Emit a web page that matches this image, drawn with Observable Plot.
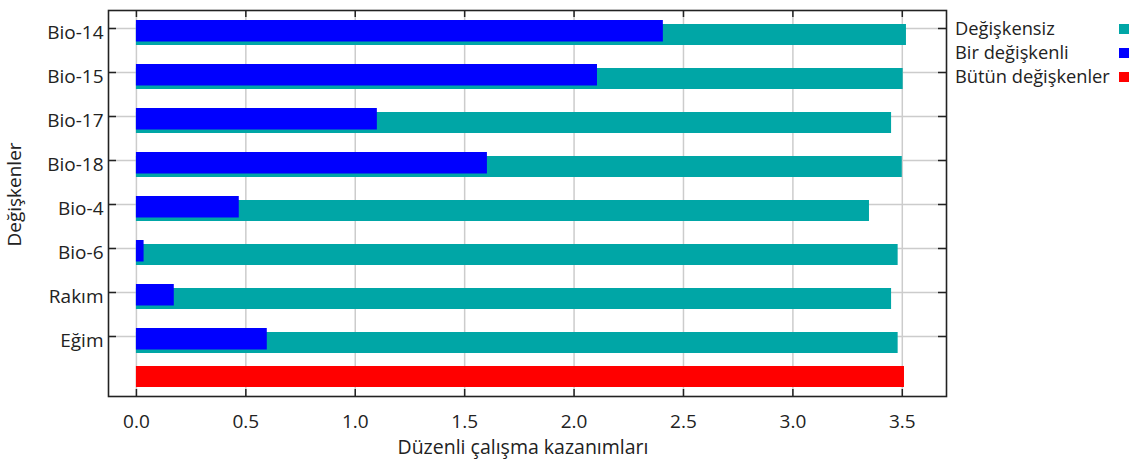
<!DOCTYPE html>
<html><head><meta charset="utf-8">
<script src="https://cdn.jsdelivr.net/npm/d3@7"></script>
<script src="https://cdn.jsdelivr.net/npm/@observablehq/plot@0.6"></script>
<style>
body{margin:0;background:#fff;}
#wrap{position:relative;width:1140px;height:459px;font-family:"Open Sans",sans-serif;}
#wrap svg{position:absolute;left:0;top:0;}
.leg{position:absolute;left:955px;font-size:18.3px;line-height:24px;color:#222;white-space:nowrap;}
.sw{position:absolute;left:1119px;width:10px;height:10px;}
</style></head><body><div id="wrap"></div>
<script>
// ---- data ----
const variables = ["Bio-14","Bio-15","Bio-17","Bio-18","Bio-4","Bio-6","Rakım","Eğim"];
const withoutVariable = [3.519, 3.504, 3.451, 3.500, 3.350, 3.481, 3.451, 3.481];
const withOnlyVariable = [2.408, 2.107, 1.101, 1.604, 0.470, 0.035, 0.173, 0.598];
const allVariablesKey = "__all";
const allVariables = 3.510;
const xTicks = [0, 0.5, 1, 1.5, 2, 2.5, 3, 3.5];
const seriesNames = ["Değişkensiz", "Bir değişkenli", "Bütün değişkenler"];
const seriesColors = ["#00a6a6", "#0000ff", "#ff0000"];
const xLabel = "Düzenli çalışma kazanımları";
const yLabel = "Değişkenler";

const withoutRows = variables.map((v, i) => ({variable: v, value: withoutVariable[i]}));
const onlyRows = variables.map((v, i) => ({variable: v, value: withOnlyVariable[i]}));
const allRows = [{variable: allVariablesKey, value: allVariables}];
const yDomain = [...variables, allVariablesKey];

const ink = "#222";
const chart = Plot.plot({
  width: 1140, height: 459,
  marginLeft: 108, marginRight: 194, marginTop: 10, marginBottom: 63,
  style: {fontFamily: "'Open Sans', sans-serif", fontSize: "19px", color: ink, background: "transparent"},
  x: {domain: [-0.1276, 3.702]},
  y: {type: "band", domain: yDomain, range: [5.9, 403], padding: 0},
  marks: [
    Plot.gridX(xTicks, {stroke: "#cccccc", strokeOpacity: 1, strokeWidth: 1.5}),
    Plot.gridY(variables, {stroke: "#cccccc", strokeOpacity: 1, strokeWidth: 1.5}),
    Plot.barX(withoutRows, {x: "value", y: "variable", fill: seriesColors[0], insetTop: 18, insetBottom: 5}),
    Plot.barX(onlyRows, {x: "value", y: "variable", fill: seriesColors[1], insetTop: 14, insetBottom: 8.5}),
    Plot.barX(allRows, {x: "value", y: "variable", fill: seriesColors[2], insetTop: 8, insetBottom: 15}),
    Plot.frame({stroke: ink, strokeWidth: 1.6}),
    Plot.tickX(xTicks, {x: d => d, insetTop: 379, stroke: ink, strokeWidth: 1.5}),
    Plot.tickX(xTicks, {x: d => d, insetBottom: 379, stroke: ink, strokeWidth: 1.5}),
    Plot.tickY(variables, {y: d => d, insetRight: 830, stroke: ink, strokeWidth: 1.5}),
    Plot.tickY(variables, {y: d => d, insetLeft: 830, stroke: ink, strokeWidth: 1.5}),
    Plot.axisX(xTicks, {tickSize: 0, tickPadding: 17.5, tickFormat: d3.format(".1f"), label: null, fontSize: 19}),
    Plot.axisY(variables, {tickSize: 0, tickPadding: 5, dy: 4, label: null, fontSize: 19}),
    Plot.text([xLabel], {frameAnchor: "bottom", textAnchor: "middle", lineAnchor: "middle", dy: 51, dx: -4.5, fontSize: 19.5}),
    Plot.text([yLabel], {frameAnchor: "left", textAnchor: "middle", lineAnchor: "middle", rotate: -90, dx: -94, dy: -9, fontSize: 19})
  ]
});
const wrap = document.getElementById("wrap");
wrap.appendChild(chart);

// legend (HTML, right side)
seriesNames.forEach((name, i) => {
  const t = document.createElement("div");
  t.className = "leg";
  t.style.top = (15.8 + 24 * i) + "px";
  t.textContent = name;
  wrap.appendChild(t);
  const s = document.createElement("div");
  s.className = "sw";
  s.style.top = (24 + 24 * i) + "px";
  s.style.background = seriesColors[i];
  wrap.appendChild(s);
});
</script></body></html>
